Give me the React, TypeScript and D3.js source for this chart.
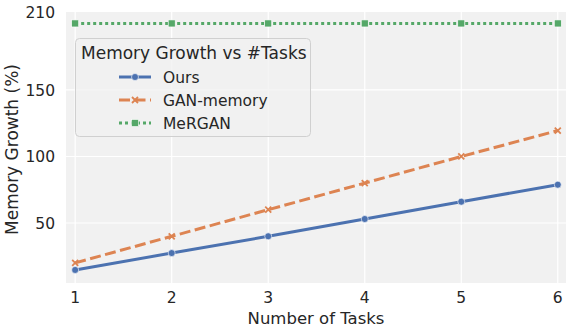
import * as d3 from 'd3'
import { useEffect, useRef } from 'react';

const tasks = [1, 2, 3, 4, 5, 6];
const ours = [14.7, 27.4, 40, 53, 66, 78.8];
const ganMemory = [20, 40, 60, 80, 100, 119.5];
const merGan = [200, 200, 200, 200, 200, 200];
const yTicks = [50, 100, 150, 210];
const seriesNames = ["Ours", "GAN-memory", "MeRGAN"];

const W = 569, H = 328;
const ink = "#262626";
const font = "DejaVu Sans, sans-serif";

function drawChart(svgEl: SVGSVGElement) {
    const svg = d3.select(svgEl);
    svg.selectAll("*").remove();

    const left = 66, right = 566, top = 12, bottom = 283;
    const x = d3.scaleLinear().domain([0.905, 6.085]).range([left, right]);
    const y = d3.scaleLinear().domain([4.9, 208.6]).range([bottom, top]).clamp(true);

    // plot background
    svg.append("rect").attr("x", left).attr("y", top)
        .attr("width", right - left).attr("height", bottom - top)
        .attr("fill", "#f1f1f1");

    // grid
    const g = svg.append("g");
    g.selectAll("line.gx").data(tasks).enter().append("line")
        .attr("x1", d => x(d)).attr("x2", d => x(d))
        .attr("y1", top).attr("y2", bottom)
        .attr("stroke", "white").attr("stroke-width", 1.2);
    g.selectAll("line.gy").data(yTicks.filter(d => d < 208)).enter().append("line")
        .attr("x1", left).attr("x2", right)
        .attr("y1", d => y(d)).attr("y2", d => y(d))
        .attr("stroke", "white").attr("stroke-width", 1.2);

    // tick labels
    svg.selectAll("text.xt").data(tasks).enter().append("text")
        .attr("x", d => x(d)).attr("y", 303)
        .attr("text-anchor", "middle").attr("font-size", 15.5)
        .attr("font-family", font).attr("fill", ink)
        .text(d => d);
    svg.selectAll("text.yt").data(yTicks).enter().append("text")
        .attr("x", 55).attr("y", d => y(d) + 6)
        .attr("text-anchor", "end").attr("font-size", 15.5)
        .attr("font-family", font).attr("fill", ink)
        .text(d => d);

    // axis labels
    svg.append("text").attr("x", (left + right) / 2).attr("y", 324)
        .attr("text-anchor", "middle").attr("font-size", 16.5)
        .attr("font-family", font).attr("fill", ink)
        .text("Number of Tasks");
    svg.append("text")
        .attr("transform", `translate(18, ${(top + bottom) / 2 + 2}) rotate(-90)`)
        .attr("text-anchor", "middle").attr("font-size", 17)
        .attr("font-family", font).attr("fill", ink)
        .text("Memory Growth (%)");

    const colors = ["#4c72b0", "#dd8452", "#55a868"];
    const dashes = [null, "11,4.5", "3,3"];
    const allSeries = [ours, ganMemory, merGan];

    const line = d3.line<number>().x((_, i) => x(tasks[i])).y(d => y(d));

    const drawMarker = (sel: any, k: number, cx: number, cy: number) => {
        if (k === 0) {
            sel.append("circle").attr("cx", cx).attr("cy", cy).attr("r", 3.5)
                .attr("fill", colors[0]).attr("stroke", "white").attr("stroke-width", 0.6);
        } else if (k === 1) {
            const r = 3;
            sel.append("path")
                .attr("d", `M${cx - r},${cy - r}L${cx + r},${cy + r}M${cx - r},${cy + r}L${cx + r},${cy - r}`)
                .attr("stroke", colors[1]).attr("stroke-width", 1.8);
        } else {
            const r = 3.5;
            sel.append("rect").attr("x", cx - r).attr("y", cy - r)
                .attr("width", 2 * r).attr("height", 2 * r)
                .attr("fill", colors[2]).attr("stroke", "white").attr("stroke-width", 0.6);
        }
    };

    const plot = svg.append("g");
    allSeries.forEach((vals, k) => {
        plot.append("path").datum(vals).attr("d", line)
            .attr("fill", "none").attr("stroke", colors[k]).attr("stroke-width", 3)
            .attr("stroke-dasharray", dashes[k]);
        const mg = plot.append("g");
        vals.forEach((v, i) => drawMarker(mg, k, x(tasks[i]), y(v)));
    });

    // legend
    const lg = svg.append("g");
    lg.append("rect").attr("x", 75.5).attr("y", 38.5).attr("width", 235).attr("height", 98)
        .attr("rx", 4).attr("fill", "#f1f1f1").attr("fill-opacity", 0.8)
        .attr("stroke", "#d0d0d0").attr("stroke-width", 1);
    lg.append("text").attr("x", 81).attr("y", 59).attr("font-size", 17)
        .attr("font-family", font).attr("fill", ink).text("Memory Growth vs #Tasks");
    seriesNames.forEach((name, k) => {
        const ly = 77 + k * 23;
        lg.append("line").attr("x1", 119).attr("x2", 151).attr("y1", ly).attr("y2", ly)
            .attr("stroke", colors[k]).attr("stroke-width", 3)
            .attr("stroke-dasharray", dashes[k]);
        drawMarker(lg, k, 135, ly);
        lg.append("text").attr("x", 163).attr("y", ly + 5.5).attr("font-size", 15.5)
            .attr("font-family", font).attr("fill", ink).text(name);
    });
}

function App() {
    const ref = useRef<SVGSVGElement>(null);
    useEffect(() => {
        if (ref.current) drawChart(ref.current);
    });
    return (
        <svg ref={ref} width={W} height={H}
            style={{ position: 'absolute', left: 0, top: 0, background: 'white' }}>
        </svg>
    );
}

export default App;
